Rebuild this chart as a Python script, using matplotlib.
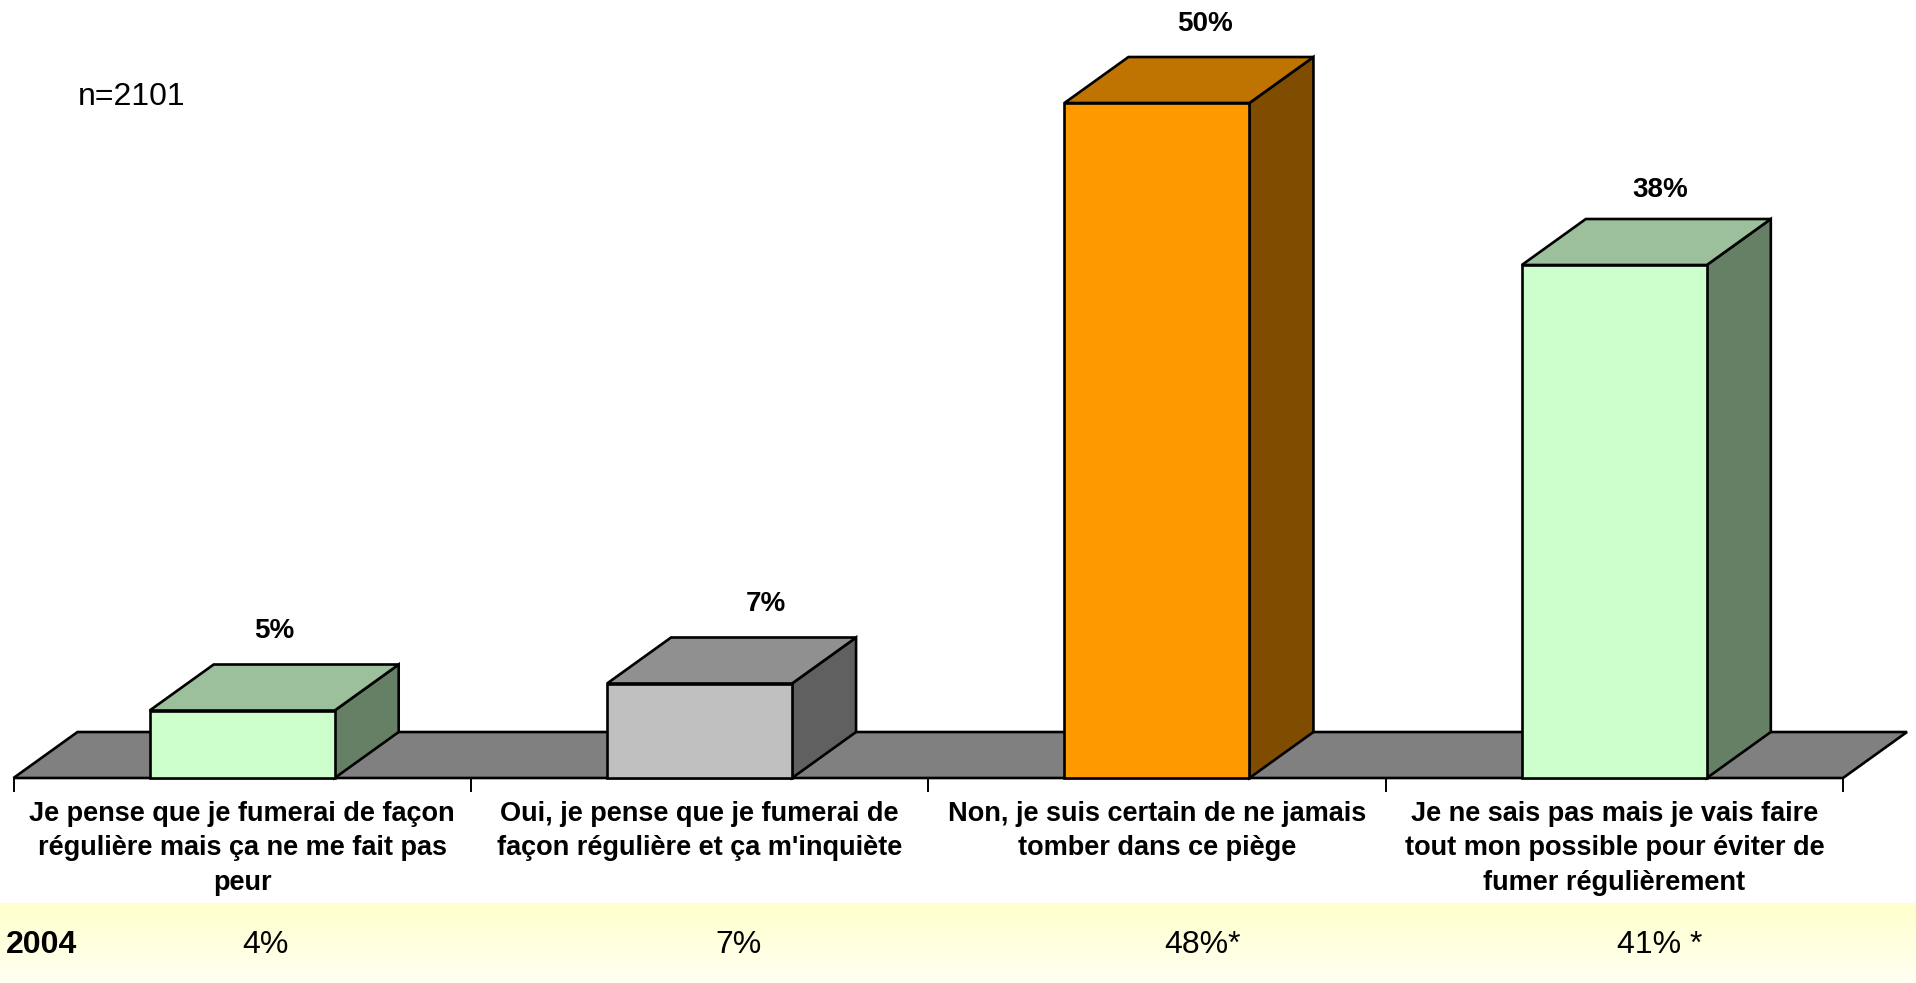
import numpy as np
import matplotlib
matplotlib.use("Agg")
import matplotlib.pyplot as plt
from matplotlib.patches import Polygon, Rectangle
import matplotlib.transforms as mtransforms
from matplotlib.colors import LinearSegmentedColormap

plt.rcParams['font.family'] = ['Liberation Sans', 'DejaVu Sans']

# ---- data ----
categories = [
    "Je pense que je fumerai de façon\nrégulière mais ça ne me fait pas\npeur",
    "Oui, je pense que je fumerai de\nfaçon régulière et ça m'inquiète",
    "Non, je suis certain de ne jamais\ntomber dans ce piège",
    "Je ne sais pas mais je vais faire\ntout mon possible pour éviter de\nfumer régulièrement",
]
values_2007 = [5, 7, 50, 38]
value_labels = ["5%", "7%", "50%", "38%"]
row_title = "2004"
values_2004 = ["4%", "7%", "48%*", "41% *"]
sample_note = "n=2101"

# ---- styles ----
front_colors = ["#CCFFCC", "#C0C0C0", "#FF9900", "#CCFFCC"]
top_colors = ["#9CBF9C", "#909090", "#BF7300", "#9CBF9C"]
side_colors = ["#668066", "#606060", "#804D00", "#668066"]
floor_color = "#808080"
label_dx = [0.07, 0.145, 0.105, 0.1]
label_dy = [24, 24, 24, 21]

W, H = 1916, 983
fig = plt.figure(figsize=(W / 100, H / 100), dpi=100)
fig.patch.set_facecolor("white")

# bottom yellow band (gradient)
band_h = 80 / H
bax = fig.add_axes([0, 0, 1, band_h], zorder=0)
grad = np.linspace(0, 1, 100).reshape(-1, 1)
cmap = LinearSegmentedColormap.from_list("band", ["#FFFFCC", "#FFFFF2"])
bax.imshow(grad, aspect="auto", cmap=cmap, extent=[0, 1, 0, 1], origin="upper")
bax.set_axis_off()

# main axes
left_px, right_px = 13.5, 1843
base_px = 205
ymax = 57
px_per_pct = 13.5
ax = fig.add_axes([left_px / W, base_px / H, (right_px - left_px) / W,
                   ymax * px_per_pct / H], zorder=1)
ax.set_xlim(-0.5, 3.5)
ax.set_ylim(0, ymax)
ax.patch.set_alpha(0)
for s in ax.spines.values():
    s.set_visible(False)

cat_px = (right_px - left_px) / 4
DX = 64 / cat_px
DY = 46 / px_per_pct
bw = 185 / cat_px
lw = 1.9

# floor
n = len(values_2007)
floor = Polygon([(-0.5, 0), (n - 0.5, 0), (n - 0.5 + DX, DY), (-0.5 + DX, DY)],
                closed=True, facecolor=floor_color, edgecolor="black", lw=lw,
                clip_on=False, zorder=2, joinstyle="miter")
ax.add_patch(floor)

for i, v in enumerate(values_2007):
    x0, x1 = i - bw / 2, i + bw / 2
    front = Rectangle((x0, 0), bw, v, facecolor=front_colors[i], edgecolor="black",
                      lw=lw, clip_on=False, zorder=4)
    top = Polygon([(x0, v), (x1, v), (x1 + DX, v + DY), (x0 + DX, v + DY)], closed=True,
                  facecolor=top_colors[i], edgecolor="black", lw=lw, clip_on=False, zorder=3)
    side = Polygon([(x1, 0), (x1 + DX, DY), (x1 + DX, v + DY), (x1, v)], closed=True,
                   facecolor=side_colors[i], edgecolor="black", lw=lw, clip_on=False, zorder=3)
    ax.add_patch(side)
    ax.add_patch(top)
    ax.add_patch(front)
    ax.annotate(value_labels[i], xy=(i + label_dx[i], v + DY), xytext=(0, label_dy[i]),
                textcoords="offset points", ha="center", va="center",
                fontsize=20, fontweight="bold", annotation_clip=False)
    ax.annotate(categories[i], xy=(i, 0), xytext=(0, -16.5), textcoords="offset points",
                ha="center", va="top", fontsize=19.5, fontweight="bold",
                linespacing=1.42, annotation_clip=False)

# ticks at category boundaries
ax.set_xticks(np.arange(-0.5, n, 1.0))
ax.set_yticks([])
ax.tick_params(axis="x", length=10, width=1.4, color="black", labelbottom=False,
               direction="out")

# 2004 row
blend = mtransforms.blended_transform_factory(ax.transData, fig.transFigure)
fig.text(6 / W, 38 / H, row_title, fontsize=23, fontweight="bold", va="center",
         ha="left", zorder=5)
row_dx = [0.05, 0.085, 0.1, 0.1]
for i, s in enumerate(values_2004):
    ax.text(i + row_dx[i], 38 / H, s, transform=blend, fontsize=23, ha="center",
            va="center", clip_on=False)

fig.text(78 / W, 1 - 97 / H, sample_note, fontsize=23, ha="left", va="center")

fig.savefig("out.png", dpi=100, facecolor="white")
